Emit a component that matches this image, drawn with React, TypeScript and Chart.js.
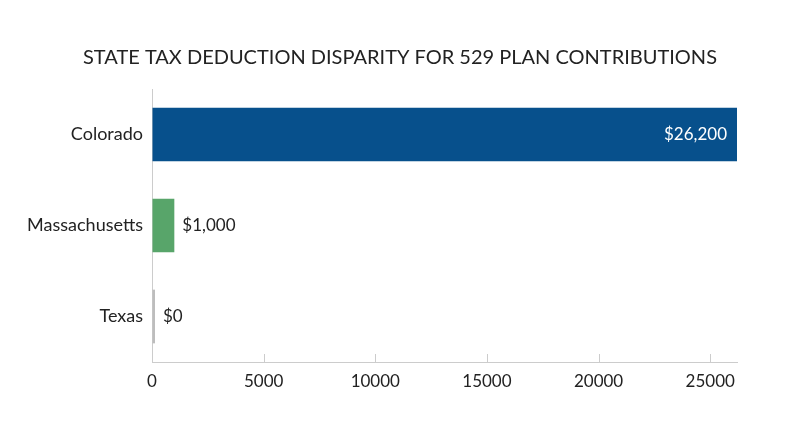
import React, { useEffect, useRef } from "react";
import { Chart, registerables } from "chart.js";

Chart.register(...registerables);

const TITLE = "STATE TAX DEDUCTION DISPARITY FOR 529 PLAN CONTRIBUTIONS";
const states = ["Colorado", "Massachusetts", "Texas"];
const deductions = [26200, 1000, 0];
const barColors = ["#07508c", "#58a56a", "#bdbdbd"];
const xTicks = [0, 5000, 10000, 15000, 20000, 25000];
const xMax = 26200;

const FONT = "Lato, 'Noto Sans', sans-serif";
const TEXT = "#222222";
const AXIS = "#cccccc";

const fmt = (v: number) => "$" + v.toLocaleString("en-US");

const titlePlugin = {
  id: "centeredTitle",
  afterDraw(chart: any) {
    const ctx = chart.ctx;
    ctx.save();
    ctx.font = `20px ${FONT}`;
    ctx.fillStyle = TEXT;
    ctx.textAlign = "center";
    ctx.textBaseline = "middle";
    ctx.fillText(TITLE, chart.width / 2, 58);
    ctx.restore();
  },
};

const valueLabels = {
  id: "valueLabels",
  afterDatasetsDraw(chart: any) {
    const ctx = chart.ctx;
    const meta = chart.getDatasetMeta(0);
    ctx.save();
    ctx.font = `17px ${FONT}`;
    ctx.textBaseline = "middle";
    meta.data.forEach((bar: any, i: number) => {
      const v = deductions[i];
      const width = Math.abs(bar.x - bar.base);
      const txt = fmt(v);
      if (width > 120) {
        ctx.fillStyle = "#ffffff";
        ctx.textAlign = "right";
        ctx.fillText(txt, bar.x - 10, bar.y);
      } else {
        ctx.fillStyle = TEXT;
        ctx.textAlign = "left";
        ctx.fillText(txt, bar.x + 8, bar.y);
      }
    });
    ctx.restore();
  },
};

const innerTicks = {
  id: "innerTicks",
  afterDraw(chart: any) {
    const x = chart.scales.x;
    const ctx = chart.ctx;
    const bottom = chart.chartArea.bottom;
    ctx.save();
    ctx.strokeStyle = AXIS;
    ctx.lineWidth = 1;
    x.ticks.forEach((t: any) => {
      const px = Math.round(x.getPixelForValue(t.value)) + 0.5;
      ctx.beginPath();
      ctx.moveTo(px, bottom - 8);
      ctx.lineTo(px, bottom);
      ctx.stroke();
    });
    ctx.restore();
  },
};

export default function App() {
  const ref = useRef<HTMLCanvasElement | null>(null);
  useEffect(() => {
    if (!ref.current) return;
    const chart = new Chart(ref.current, {
      type: "bar",
      data: {
        labels: states,
        datasets: [
          {
            data: deductions,
            backgroundColor: barColors,
            borderWidth: 0,
            categoryPercentage: 1,
            barPercentage: 0.59,
            minBarLength: 3,
          },
        ],
      },
      options: {
        indexAxis: "y",
        animation: false,
        responsive: true,
        maintainAspectRatio: false,
        layout: { padding: { left: 0, right: 63, top: 89, bottom: 0 } },
        plugins: {
          legend: { display: false },
          tooltip: { enabled: false },
          title: { display: false },
        },
        scales: {
          x: {
            type: "linear",
            min: 0,
            max: xMax,
            afterBuildTicks: (scale: any) => {
              scale.ticks = xTicks.map((v) => ({ value: v }));
            },
            afterFit: (scale: any) => {
              scale.height = 85;
            },
            grid: { drawOnChartArea: false, drawTicks: false },
            border: { display: true, color: AXIS, width: 1 },
            ticks: {
              color: TEXT,
              padding: 9,
              font: { family: FONT, size: 17 },
              maxRotation: 0,
              callback: (v: any) => String(v),
            },
          },
          y: {
            afterFit: (scale: any) => {
              scale.width = 152;
            },
            grid: { display: false, drawTicks: false },
            border: { display: true, color: AXIS, width: 1 },
            ticks: {
              color: TEXT,
              padding: 9,
              font: { family: FONT, size: 18 },
            },
          },
        },
      },
      plugins: [valueLabels, innerTicks, titlePlugin],
    } as any);
    return () => chart.destroy();
  }, []);
  return (
    <div
      style={{
        position: "fixed",
        left: 0,
        top: 0,
        width: 800,
        height: 447,
        background: "#ffffff",
      }}
    >
      <canvas ref={ref} />
    </div>
  );
}
